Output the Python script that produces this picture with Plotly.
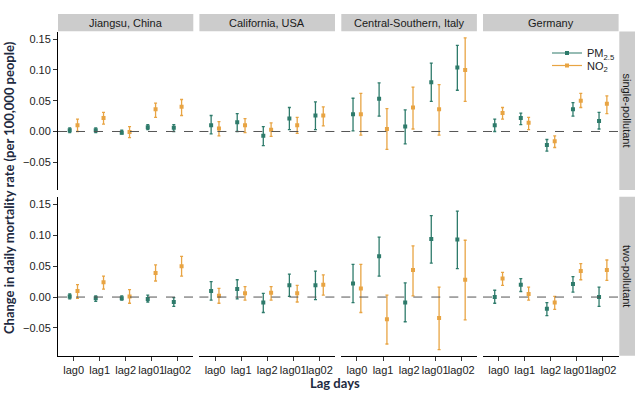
import plotly.graph_objects as go

lags = ["lag0", "lag1", "lag2", "lag01", "lag02"]
regions = ["Jiangsu, China", "California, USA", "Central-Southern, Italy", "Germany"]
models = ["single-pollutant", "two-pollutant"]

# single-pollutant model, per region (Jiangsu, California, Italy, Germany)
pm_single_est = [[0.002, 0.002, -0.002, 0.007, 0.006],
                 [0.010, 0.015, -0.007, 0.021, 0.026],
                 [0.028, 0.053, 0.008, 0.080, 0.104],
                 [0.010, 0.022, -0.022, 0.036, 0.017]]
pm_single_lo = [[-0.002, -0.002, -0.004, 0.003, 0.000],
                [-0.004, 0.000, -0.023, 0.003, 0.003],
                [0.001, 0.025, -0.020, 0.049, 0.067],
                [0.000, 0.011, -0.032, 0.025, 0.004]]
pm_single_hi = [[0.006, 0.006, 0.002, 0.011, 0.011],
                [0.026, 0.029, 0.008, 0.039, 0.048],
                [0.054, 0.079, 0.035, 0.111, 0.140],
                [0.020, 0.030, -0.013, 0.047, 0.031]]
no2_single_est = [[0.010, 0.022, -0.001, 0.036, 0.040],
                  [0.005, 0.010, 0.003, 0.010, 0.026],
                  [0.028, 0.004, 0.039, 0.036, 0.100],
                  [0.030, 0.014, -0.016, 0.050, 0.045]]
no2_single_lo = [[0.000, 0.012, -0.010, 0.023, 0.026],
                 [-0.007, -0.002, -0.008, -0.003, 0.009],
                 [-0.006, -0.029, 0.004, -0.006, 0.049],
                 [0.020, 0.003, -0.026, 0.039, 0.029]]
no2_single_hi = [[0.020, 0.031, 0.008, 0.046, 0.052],
                 [0.016, 0.021, 0.014, 0.023, 0.040],
                 [0.062, 0.037, 0.072, 0.076, 0.152],
                 [0.039, 0.023, -0.007, 0.062, 0.058]]

# two-pollutant model
pm_two_est = [[0.001, -0.002, -0.002, -0.003, -0.008],
              [0.010, 0.013, -0.009, 0.019, 0.019],
              [0.022, 0.066, -0.009, 0.094, 0.093],
              [0.000, 0.020, -0.019, 0.021, 0.000]]
pm_two_lo = [[-0.003, -0.007, -0.005, -0.008, -0.015],
             [-0.005, -0.003, -0.025, 0.001, -0.004],
             [-0.009, 0.034, -0.040, 0.055, 0.046],
             [-0.010, 0.009, -0.030, 0.008, -0.015]]
pm_two_hi = [[0.005, 0.002, 0.002, 0.003, -0.001],
             [0.025, 0.028, 0.006, 0.037, 0.042],
             [0.053, 0.097, 0.023, 0.132, 0.139],
             [0.011, 0.030, -0.009, 0.033, 0.016]]
no2_two_est = [[0.010, 0.024, 0.001, 0.039, 0.050],
               [0.002, 0.006, 0.007, 0.006, 0.020],
               [0.014, -0.036, 0.044, -0.034, 0.028],
               [0.030, 0.005, -0.009, 0.042, 0.044]]
no2_two_lo = [[-0.002, 0.013, -0.010, 0.026, 0.034],
              [-0.010, -0.005, -0.005, -0.008, 0.003],
              [-0.025, -0.076, 0.002, -0.085, -0.037],
              [0.019, -0.005, -0.020, 0.028, 0.027]]
no2_two_hi = [[0.020, 0.034, 0.012, 0.052, 0.066],
              [0.014, 0.017, 0.017, 0.019, 0.036],
              [0.053, 0.003, 0.083, 0.016, 0.092],
              [0.040, 0.016, 0.001, 0.054, 0.060]]

y_ticks = [-0.05, 0.0, 0.05, 0.10, 0.15]

PM_COL = "#2E7B6B"
NO2_COL = "#E8A443"
DODGE = 0.15

W, H = 640, 393
ML, MR, MT, MB = 58, 5, 14, 37
PW, PH = W - ML - MR, H - MT - MB


def px_x(p):
    return min(1.0, max(0.0, (p - ML) / PW))


def px_y(p):
    return min(1.0, max(0.0, (H - MB - p) / PH))


def px_x_free(p):
    return (p - ML) / PW


def px_y_free(p):
    return (H - MB - p) / PH


col_px = [(58.0, 193.3), (199.4, 335.0), (341.3, 476.9), (483.0, 618.6)]
row_px = [(31.5, 190.0), (196.7, 355.8)]

data = {
    0: (pm_single_est, pm_single_lo, pm_single_hi, no2_single_est, no2_single_lo, no2_single_hi),
    1: (pm_two_est, pm_two_lo, pm_two_hi, no2_two_est, no2_two_lo, no2_two_hi),
}

fig = go.Figure()
layout = dict(
    width=W, height=H,
    margin=dict(l=ML, r=MR, t=MT, b=MB),
    plot_bgcolor="white", paper_bgcolor="white",
    font=dict(family="Liberation Sans, Arial, sans-serif", size=11, color="#333333"),
    showlegend=True,
)
shapes = []
annotations = []

idx = list(range(len(lags)))
for r in range(2):
    pe, pl, ph, ne, nl, nh = data[r]
    for c in range(4):
        n = r * 4 + c + 1
        xa = "x" if n == 1 else f"x{n}"
        ya = "y" if n == 1 else f"y{n}"
        x0, x1 = col_px[c]
        y0, y1 = row_px[r]
        for est, lo, hi, col, off in [(pe[c], pl[c], ph[c], PM_COL, -DODGE),
                                      (ne[c], nl[c], nh[c], NO2_COL, DODGE)]:
            fig.add_trace(go.Scatter(
                x=[i + off for i in idx], y=est, mode="markers",
                marker=dict(color=col, size=4, symbol="square"),
                error_y=dict(type="data", symmetric=False,
                             array=[h - e for h, e in zip(hi, est)],
                             arrayminus=[e - l for e, l in zip(est, lo)],
                             color=col, thickness=1.3, width=1.5),
                xaxis=xa, yaxis=ya, showlegend=False, hoverinfo="skip"))
        layout[f"xaxis{'' if n == 1 else n}"] = dict(
            domain=[px_x(x0), px_x(x1)], anchor=ya, range=[-0.6, 4.6],
            tickvals=idx, ticktext=lags, tickangle=0,
            showticklabels=(r == 1), ticks="outside" if r == 1 else "",
            ticklen=4, tickcolor="#333333",
            showline=(r == 1), linecolor="black", linewidth=1,
            showgrid=False, zeroline=False, fixedrange=True,
            tickfont=dict(size=11, color="#222222"))
        layout[f"yaxis{'' if n == 1 else n}"] = dict(
            domain=[px_y(y1), px_y(y0)], anchor=xa, range=[-0.0951, 0.1625],
            tickvals=y_ticks, tickformat=".2f",
            showticklabels=(c == 0), ticks="outside" if c == 0 else "",
            ticklen=4, tickcolor="#333333",
            showline=(c == 0), linecolor="black", linewidth=1,
            showgrid=False, zeroline=False, fixedrange=True,
            tickfont=dict(size=11, color="#222222"))
        shapes.append(dict(type="line", xref=f"{xa} domain", x0=0, x1=1,
                           yref=ya, y0=0, y1=0,
                           line=dict(color="#555555", width=1, dash="dash")))
        if r == 0:
            shapes.append(dict(type="rect", xref="paper", yref="paper",
                               x0=px_x(x0), x1=px_x(x1), y0=px_y(31.3), y1=px_y(14),
                               fillcolor="#CCCCCC", line=dict(width=0), layer="below"))
            annotations.append(dict(text=regions[c], xref="paper", yref="paper",
                                    x=px_x((x0 + x1) / 2), y=px_y(22.7),
                                    showarrow=False, xanchor="center", yanchor="middle",
                                    font=dict(size=11, color="#1A1A1A")))
    y0, y1 = row_px[r]
    shapes.append(dict(type="rect", xref="paper", yref="paper",
                       x0=px_x(619.3), x1=px_x(635), y0=px_y(y1), y1=px_y(y0),
                       fillcolor="#CCCCCC", line=dict(width=0), layer="below"))
    annotations.append(dict(text=models[r], xref="paper", yref="paper",
                            x=px_x(627.2), y=px_y((y0 + y1) / 2), textangle=90,
                            showarrow=False, xanchor="center", yanchor="middle",
                            font=dict(size=11, color="#1A1A1A")))

annotations.append(dict(text="<b>Lag days</b>", xref="paper", yref="paper",
                        x=px_x_free(335), y=px_y_free(382.5), showarrow=False,
                        xanchor="center", yanchor="middle",
                        font=dict(family="Lato, sans-serif", size=13, color="#1E2A40")))
annotations.append(dict(text="<b>Change in daily mortality rate (per 100,000 people)</b>",
                        xref="paper", yref="paper", x=px_x_free(9), y=px_y_free(188),
                        textangle=-90, showarrow=False, xanchor="center", yanchor="middle",
                        font=dict(family="Lato, sans-serif", size=13, color="#1E2A40")))

for name, col, lg in [("PM<sub>2.5</sub>", PM_COL, "legend"), ("NO<sub>2</sub>", NO2_COL, "legend2")]:
    fig.add_trace(go.Scatter(x=[None], y=[None], mode="lines+markers", name=name,
                             marker=dict(color=col, size=4, symbol="square"),
                             line=dict(color=col, width=1.2),
                             xaxis="x4", yaxis="y4", legend=lg))

legend_common = dict(xanchor="left", yanchor="middle", bgcolor="rgba(0,0,0,0)",
                     font=dict(size=11, color="#222222"), itemwidth=30)
layout["legend"] = dict(x=px_x(547), y=px_y(53), **legend_common)
layout["legend2"] = dict(x=px_x(547), y=px_y(65.5), **legend_common)
layout["shapes"] = shapes
layout["annotations"] = annotations
fig.update_layout(**layout)
fig.write_html("out.html", config={"displayModeBar": False},
               post_script="document.body.style.margin='0';document.body.style.overflow='hidden';")
